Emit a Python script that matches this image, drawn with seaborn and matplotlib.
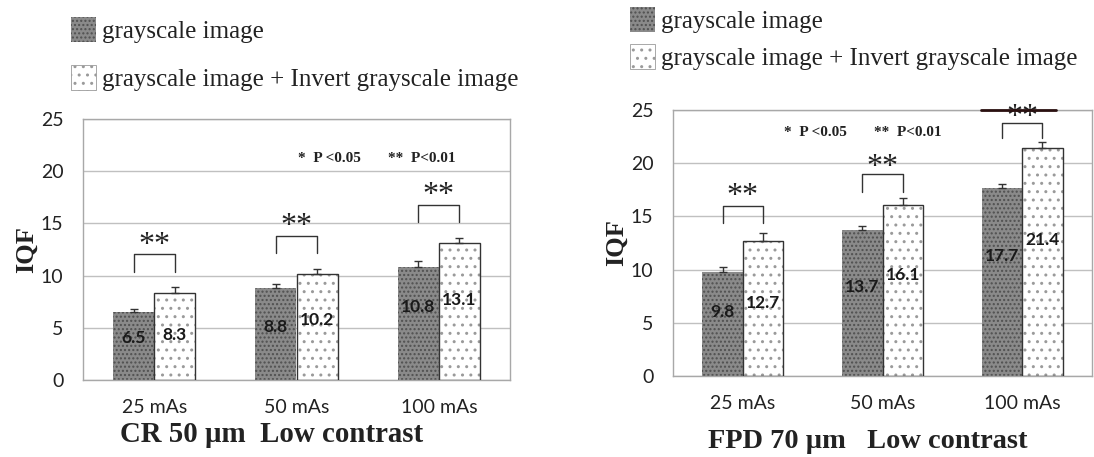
import numpy as np
import pandas as pd
import matplotlib
matplotlib.use("Agg")
import matplotlib.pyplot as plt
import seaborn as sns
from matplotlib.patches import Rectangle

# ---- data -------------------------------------------------------------
categories = ["25 mAs", "50 mAs", "100 mAs"]
series = ["grayscale image", "grayscale image + Invert grayscale image"]

cr_gray = [6.5, 8.8, 10.8]
cr_invert = [8.3, 10.2, 13.1]
cr_gray_err = [0.3, 0.4, 0.6]
cr_invert_err = [0.6, 0.45, 0.5]

fpd_gray = [9.8, 13.7, 17.7]
fpd_invert = [12.7, 16.1, 21.4]
fpd_gray_err = [0.45, 0.4, 0.3]
fpd_invert_err = [0.7, 0.6, 0.6]

y_ticks = [0, 5, 10, 15, 20, 25]
sig_marks = ["**", "**", "**"]
p_note = "*  P <0.05       **  P<0.01"

# ---- style ------------------------------------------------------------
sns.set_theme(style="white")
plt.rcParams["font.family"] = ["Lato", "DejaVu Sans"]
plt.rcParams["hatch.linewidth"] = 1.0
SERIF = ["Liberation Serif", "DejaVu Serif"]

GRAY_FACE = "#8a8a8a"
GRAY_HATCH = "#505050"
WHITE_HATCH = "#9a9a9a"
GRID = "#c0c0c0"
TXT = "#222222"

W, H = 1094, 457
fig = plt.figure(figsize=(W / 100, H / 100), dpi=100)


def px_axes(left, top, right, bottom):
    return fig.add_axes([left / W, 1 - bottom / H, (right - left) / W, (bottom - top) / H])


def draw_panel(ax, gray, inv, gerr, ierr, label_y_gray, label_y_inv,
               br_top, br_leg, star_y, note_xy, legend_anchor, legend_gap,
               title, title_xy, title_size):
    df = pd.DataFrame({
        "dose": categories * 2,
        "group": [series[0]] * len(categories) + [series[1]] * len(categories),
        "IQF": gray + inv,
    })
    sns.barplot(data=df, x="dose", y="IQF", hue="group", order=categories,
                hue_order=series, width=0.58, errorbar=None, saturation=1,
                palette=[GRAY_FACE, "white"], legend=False, ax=ax, zorder=2)

    c_gray, c_inv = ax.containers[0], ax.containers[1]
    for p in c_gray.patches:
        p.set_facecolor(GRAY_FACE)
        p.set_edgecolor(GRAY_HATCH)
        p.set_hatch("....")
        p.set_linewidth(0)
    for p in c_inv.patches:
        p.set_facecolor("white")
        p.set_edgecolor(WHITE_HATCH)
        p.set_hatch("..")
        p.set_linewidth(0.6)
        ax.add_patch(Rectangle(p.get_xy(), p.get_width(), p.get_height(),
                               fill=False, edgecolor="#333333", linewidth=1.0, zorder=3))

    # plus-only error bars and value labels
    for cont, vals, errs, ly in ((c_gray, gray, gerr, label_y_gray),
                                 (c_inv, inv, ierr, label_y_inv)):
        xs = [p.get_x() + p.get_width() / 2 for p in cont.patches]
        ax.errorbar(xs, vals, yerr=[np.zeros(len(errs)), errs], fmt="none",
                    ecolor="#333333", elinewidth=1.0, capsize=3, capthick=1.0, zorder=4)
        for x, v, y in zip(xs, vals, ly):
            ax.text(x, y, f"{v:.1f}", ha="center", va="center", fontsize=12.5,
                    fontweight="bold", color="#1a1a1a", zorder=5)

    # significance brackets
    gx = [p.get_x() + p.get_width() / 2 for p in c_gray.patches]
    ix = [p.get_x() + p.get_width() / 2 for p in c_inv.patches]
    for x0, x1, top, leg, sy, mark in zip(gx, ix, br_top, br_leg, star_y, sig_marks):
        ax.plot([x0, x0, x1, x1], [leg, top, top, leg], color="#333333", lw=1.0, zorder=4)
        ax.text((x0 + x1) / 2, sy, mark, ha="center", va="center", fontsize=23,
                family=SERIF, color=TXT, zorder=5)

    ax.text(note_xy[0], note_xy[1], p_note, ha="center", va="center", fontsize=11,
            fontweight="bold", family=SERIF, color=TXT)

    ax.set_ylim(0, 25)
    ax.set_xlim(-0.5, len(categories) - 0.5)
    ax.set_yticks(y_ticks)
    ax.yaxis.grid(True, color=GRID, lw=1.0, zorder=0)
    ax.set_axisbelow(True)
    ax.set_xticks([0.5, 1.5], minor=True)
    ax.tick_params(axis="x", which="major", length=0, pad=14, labelsize=14, labelcolor=TXT)
    ax.tick_params(axis="x", which="minor", direction="in", length=7, width=1, color=GRID)
    ax.tick_params(axis="y", length=0, pad=14, labelsize=14, labelcolor=TXT)
    for s in ax.spines.values():
        s.set_visible(True)
        s.set_color("#a8a8a8")
        s.set_linewidth(1.0)
    ax.set_xlabel("")
    ax.set_ylabel("IQF", fontsize=19, fontweight="bold", family=SERIF, color=TXT, labelpad=2)

    handles = [c_gray.patches[0], c_inv.patches[0]]
    fig.legend(handles, series, loc="upper left",
               bbox_to_anchor=(legend_anchor[0] / W, 1 - legend_anchor[1] / H),
               frameon=False, borderpad=0, borderaxespad=0, handlelength=1.0,
               handleheight=1.15, handletextpad=0.25, labelspacing=legend_gap,
               prop={"family": SERIF, "size": 18}, labelcolor=TXT)

    fig.text(title_xy[0] / W, 1 - title_xy[1] / H, title, ha="center", va="center",
             fontsize=title_size, fontweight="bold", family=SERIF, color=TXT)


ax_cr = px_axes(83, 119, 510, 380)
draw_panel(ax_cr, cr_gray, cr_invert, cr_gray_err, cr_invert_err,
           label_y_gray=[4.0, 5.1, 7.0], label_y_inv=[4.3, 5.7, 7.7],
           br_top=[12.1, 13.8, 16.8], br_leg=[10.3, 12.2, 15.1], star_y=[12.9, 14.7, 17.7],
           note_xy=(1.566, 21.2), legend_anchor=(71, 17), legend_gap=0.9,
           title="CR 50 µm  Low contrast", title_xy=(272, 435), title_size=20.8)

ax_fpd = px_axes(673, 110, 1092, 376)
draw_panel(ax_fpd, fpd_gray, fpd_invert, fpd_gray_err, fpd_invert_err,
           label_y_gray=[6.0, 8.4, 11.3], label_y_inv=[6.9, 9.5, 12.8],
           br_top=[16.0, 19.0, 23.8], br_leg=[14.4, 17.3, 22.4], star_y=[16.9, 19.6, 24.3],
           note_xy=(0.857, 22.9), legend_anchor=(630, 7), legend_gap=0.45,
           title="FPD 70 µm   Low contrast", title_xy=(868, 441), title_size=20.4)
ax_fpd.axhline(25, xmin=0.735, xmax=0.915, color="#2a1010", lw=2.0, zorder=6, clip_on=False)

fig.savefig("out.png", dpi=100)
